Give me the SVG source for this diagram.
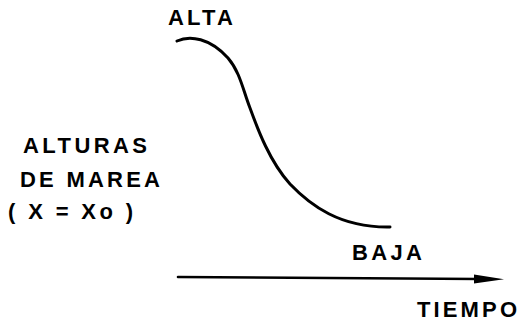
<svg xmlns="http://www.w3.org/2000/svg" width="519" height="323" viewBox="0 0 519 323">
  <style>
    .lbl { font-family: "Liberation Sans", Arial, sans-serif; font-weight: bold; font-size: 22px; fill: #000; }
    .ln { fill: none; stroke: #000; stroke-linecap: round; }
  </style>
  <defs>
    <marker id="arr" markerUnits="userSpaceOnUse" markerWidth="34" markerHeight="12" refX="4" refY="6" orient="auto" viewBox="0 0 34 12">
      <polygon points="0,1.5 30,6 0,10.5" fill="#000"/>
    </marker>
  </defs>
  <g id="connectors">
    <path id="curve" class="ln" stroke-width="3" d="M177,41 C190,35 210,38 228,58 C240,72 243,90 250,108 C258,130 270,162 290,184 C310,205 340,228 390,227"/>
    <path id="time-axis" class="ln" stroke-width="2.6" d="M178,277 L478,279" marker-end="url(#arr)"/>
  </g>
  <g id="label-alta"><text class="lbl" x="168" y="25" textLength="65" lengthAdjust="spacing">ALTA</text></g>
  <g id="label-baja"><text class="lbl" x="352" y="260" textLength="70" lengthAdjust="spacing">BAJA</text></g>
  <g id="label-tiempo"><text class="lbl" x="417" y="317" textLength="100" lengthAdjust="spacing">TIEMPO</text></g>
  <g id="label-alturas">
    <text class="lbl" x="23" y="153" textLength="124" lengthAdjust="spacing">ALTURAS</text>
    <text class="lbl" x="20" y="187" textLength="140" lengthAdjust="spacing">DE MAREA</text>
    <text class="lbl" x="8" y="219" textLength="125" lengthAdjust="spacing">( X = Xo )</text>
  </g>
</svg>
